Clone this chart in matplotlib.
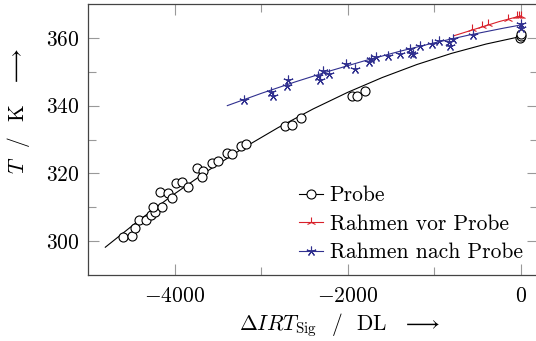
import matplotlib
matplotlib.use("Agg")
import matplotlib.pyplot as plt
from matplotlib.lines import Line2D

'''
Temperatur ueber Delta IRT-Signal: Probe und Rahmen (vor/nach Probe)
'''

# Messpunkte Probe
probe_x = [-4601, -4497, -4462, -4405, -4324, -4277, -4231, -4254, -4150, -4173,
           -4081, -4035, -3988, -3908, -3850, -3746, -3676, -3688, -3572, -3503,
           -3399, -3341, -3237, -3179, -2728, -2647, -2543, -1954, -1896, -1803,
           -10, 0, 0]
probe_y = [301.2, 301.5, 303.8, 306.2, 306.2, 307.6, 308.5, 310.0, 310.0, 314.4,
           314.1, 312.6, 317.1, 317.4, 315.9, 321.5, 320.6, 318.8, 323.2, 323.8,
           325.9, 325.6, 328.2, 328.8, 334.1, 334.4, 336.2, 342.9, 342.9, 344.4,
           360.0, 360.5, 361.0]

# Ausgleichskurve Probe
probe_fit_x = [-4800, -4400, -4000, -3600, -3200, -2800, -2400, -2000, -1600,
               -1200, -800, -400, 0]
probe_fit_y = [298.2, 306.35, 313.96, 321.03, 327.56, 333.55, 339.0, 343.91,
               348.29, 352.13, 355.42, 358.18, 360.4]

# Rahmen vor Probe
vor_x = [-566, -451, -382, -150, -46, -23, 0]
vor_y = [362.6, 363.5, 364.1, 365.6, 366.5, 366.5, 366.5]
vor_fit_x = [-775, -500, -250, 0]
vor_fit_y = [360.6, 362.8, 364.8, 366.5]

# Rahmen nach Probe
nach_x = [-3202, -2890, -2867, -2694, -2705, -2347, -2324, -2289, -2220, -2023,
          -1919, -1757, -1734, -1676, -1538, -1399, -1272, -1249, -1283, -1168,
          -1029, -948, -832, -821, -786, -555, 0, 0]
nach_y = [341.8, 344.1, 342.9, 347.6, 345.9, 348.8, 347.6, 350.3, 349.4, 352.4,
          350.9, 352.9, 353.8, 354.4, 354.7, 355.3, 355.6, 355.3, 356.8, 357.6,
          358.2, 359.1, 358.8, 357.6, 359.7, 360.9, 364.1, 362.9]
nach_fit_x = [-3390, -3000, -2600, -2200, -1800, -1400, -1000, -600, -200, 0]
nach_fit_y = [340.0, 343.6, 347.05, 350.27, 353.27, 356.02, 358.53, 360.82,
              362.86, 363.8]

plt.rcParams['font.family'] = 'serif'
plt.rcParams['font.serif'] = ['cmr10']
plt.rcParams['mathtext.fontset'] = 'cm'
plt.rcParams['axes.formatter.use_mathtext'] = True
plt.rcParams['font.size'] = 15.5

BLUE = '#30308f'
RED = '#d8202a'
star = (5, 2, 0)

fig = plt.figure(figsize=(5.36, 3.41), dpi=100)
ax = fig.add_axes([88 / 536, 66 / 341, 450 / 536, 271 / 341])

# Draw the fit lines
ax.plot(probe_fit_x, probe_fit_y, color='black', lw=0.8, zorder=2)
ax.plot(vor_fit_x, vor_fit_y, color=RED, lw=0.8, zorder=2)
ax.plot(nach_fit_x, nach_fit_y, color=BLUE, lw=0.8, zorder=2)

# Draw the data points
ax.plot(probe_x, probe_y, 'o', ms=6.5, mfc='white', mec='black', mew=0.8, zorder=3)
ax.plot(vor_x, vor_y, '2', ms=7, color=RED, mew=0.8, zorder=3)
ax.plot(nach_x, nach_y, ls='none', marker=star, ms=7, color=BLUE, mew=0.8, zorder=3)

ax.set_xlim(-5000, 200)
ax.set_ylim(290, 370)
ax.set_xticks([-4000, -2000, 0])
ax.set_xticks([-3000, -1000], minor=True)
ax.set_yticks([300, 320, 340, 360])
ax.set_yticks([310, 330, 350], minor=True)

for s in ax.spines.values():
    s.set_color('#444444')
    s.set_linewidth(0.9)
ax.tick_params(which='both', direction='in', top=True, right=True, color='#999999', width=0.8)
ax.tick_params(which='major', length=8)
ax.tick_params(which='minor', length=5.5)
ax.tick_params(axis='x', pad=8)
ax.tick_params(axis='y', pad=6)

# Add all the labels
ax.set_xlabel(r'$\Delta IRT_{\mathrm{Sig}}$  /  DL', labelpad=4)
ax.set_ylabel(r'$T$  /  K', labelpad=10)
fig.text(421 / 536, 12 / 341, r'$\longrightarrow$', ha='center', va='baseline')
fig.text(16 / 536, 274 / 341, r'$\longrightarrow$', ha='center', va='center', rotation=90)

handles = [
    Line2D([], [], color='black', lw=0.8, marker='o', ms=6.5, mfc='white', mew=0.8),
    Line2D([], [], color=RED, lw=0.8, marker='2', ms=7, mew=0.8),
    Line2D([], [], color=BLUE, lw=0.8, marker=star, ms=7, mew=0.8),
]
ax.legend(handles, ['Probe', 'Rahmen vor Probe', 'Rahmen nach Probe'],
          loc='lower right', bbox_to_anchor=(0.985, 0.015), frameon=False,
          handlelength=1.1, handletextpad=0.3, labelspacing=0.42, borderaxespad=0)

fig.savefig('out.png', dpi=100)
